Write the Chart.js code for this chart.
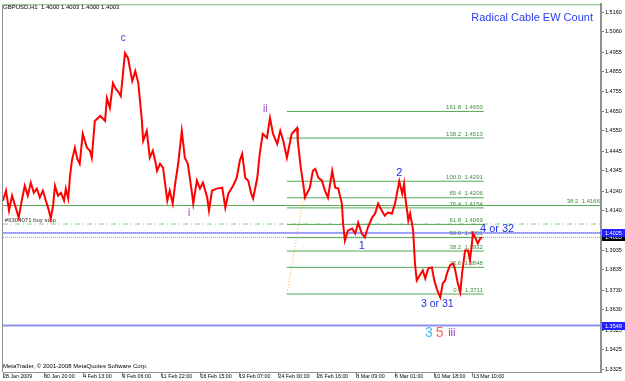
<!DOCTYPE html>
<html><head><meta charset="utf-8">
<script src="https://cdn.jsdelivr.net/npm/chart.js@4/dist/chart.umd.min.js"></script>
<style>html,body{margin:0;padding:0;background:#fff;overflow:hidden}#wrap{width:625px;height:381px;position:relative}</style>
</head><body><div id="wrap"><canvas id="c" width="625" height="381"></canvas></div>
<script>
// ---- data (hour-bar index from 28 Jan 2009 00:00, GBPUSD H1 price) ----
const barIndex = [0,5,10,15,20,26,31,36,41,46,51,56,61,66,71,76,79,83,86,91,96,101,104,108,111,114,119,123,127,132,139,144,147,152,161,169,172,177,182,187,190,195,199,202,207,214,219,224,230,232,238,243,248,252,255,260,265,272,276,281,285,290,296,301,306,313,315,321,326,331,338,341,346,354,363,368,373,381,387,392,396,401,406,411,414,421,425,430,437,442,447,454,459,464,470,478,487,488,493,497,500,503,508,513,517,522,528,533,538,545,550,555,561,563,566,571,578,583,588,594,599,604,611,616,621,627,632,637,644,649,654,656,661,664,666,669,671,674,679,682,685,690,695,699,704,710,714,719,724,728,732,735,740,745,748,753,757,760,765,770,773,776,778,781,786,790,793];
const closePrice = [1.4191,1.4243,1.4140,1.4217,1.4166,1.4104,1.4191,1.4268,1.4217,1.4284,1.4232,1.4253,1.4207,1.4243,1.4191,1.4140,1.4099,1.4166,1.4268,1.4217,1.4232,1.4191,1.4253,1.4202,1.4319,1.4396,1.4463,1.4407,1.4381,1.4535,1.4463,1.4448,1.4412,1.4601,1.4627,1.4601,1.4719,1.4668,1.4796,1.4765,1.4755,1.4729,1.4858,1.4950,1.4924,1.4806,1.4858,1.4796,1.4601,1.4499,1.4550,1.4412,1.4448,1.4396,1.4345,1.4381,1.4360,1.4191,1.4243,1.4176,1.4278,1.4381,1.4550,1.4412,1.4381,1.4227,1.4176,1.4294,1.4253,1.4284,1.4207,1.4140,1.4243,1.4253,1.4258,1.4155,1.4227,1.4268,1.4309,1.4396,1.4432,1.4309,1.4294,1.4227,1.4202,1.4309,1.4432,1.4535,1.4514,1.4617,1.4535,1.4483,1.4550,1.4499,1.4412,1.4535,1.4565,1.4499,1.4360,1.4278,1.4207,1.4227,1.4258,1.4345,1.4355,1.4309,1.4294,1.4243,1.4207,1.4345,1.4258,1.4253,1.4176,1.4073,1.3986,1.4037,1.4048,1.4022,1.4078,1.4022,1.4002,1.4053,1.4104,1.4125,1.4176,1.4140,1.4114,1.4130,1.4125,1.4176,1.4258,1.4291,1.4227,1.4278,1.4207,1.4140,1.4089,1.4125,1.4037,1.3868,1.3781,1.3807,1.3832,1.3791,1.3843,1.3848,1.3781,1.3730,1.3694,1.3766,1.3781,1.3817,1.3858,1.3868,1.3843,1.3766,1.3720,1.3817,1.3935,1.3935,1.3884,1.3961,1.4022,1.4007,1.3971,1.3996,1.4003];
const xTickBars = [0,68,133,198,262,327,391,456,520,585,649,714,778];
const xTickLabels = ['28 Jan 2009','30 Jan 20:00','4 Feb 13:00','9 Feb 06:00','11 Feb 22:00','16 Feb 15:00','19 Feb 07:00','24 Feb 00:00','26 Feb 16:00','3 Mar 09:00','6 Mar 01:00','10 Mar 18:00','13 Mar 10:00'];
const yTickValues = [1.5160,1.5060,1.4955,1.4855,1.4755,1.4650,1.4550,1.4445,1.4345,1.4240,1.4140,1.4035,1.3935,1.3835,1.3730,1.3630,1.3525,1.3425,1.3325];
const fibRatios = ['161.8','138.2','100.0','85.4','76.4','61.8','50.0','38.2','23.6','0.0'];
const fibPrices = [1.4650,1.4513,1.4291,1.4206,1.4154,1.4069,1.4001,1.3932,1.3848,1.3711];
const fibBars = [470, 796];
const fibDiagonal = [[470,1.3711],[502,1.4291]];
const level382Price = 1.4166;
const buyStopPrice = 1.4071;
const blueLinePrice = 1.4025;
const bidPrice = 1.4003;
const supportPrice = 1.3549;
const topLinePrice = 1.5199;
const waveLabels = [
  {t:'c', x:199, y:1.5027, c:'#3333cc', s:10},
  {t:'ii', x:434, y:1.4663, c:'#9933cc', s:10},
  {t:'i', x:308, y:1.4125, c:'#9933cc', s:10},
  {t:'1', x:594, y:1.3956, c:'#2233dd', s:11},
  {t:'2', x:656, y:1.4335, c:'#2233dd', s:11},
  {t:'3 or 31', x:719, y:1.3658, c:'#2233dd', s:10.5},
  {t:'4 or 32', x:818, y:1.4048, c:'#2233dd', s:11},
  {t:'3', x:705, y:1.3510, c:'#44bbee', s:14},
  {t:'5', x:723, y:1.3510, c:'#ff6655', s:14},
  {t:'iii', x:743, y:1.3510, c:'#9933cc', s:11},
  {t:'Radical Cable EW Count', x:876, y:1.5129, c:'#2a3cf0', s:11}
];
const X_MAX = 990, Y_MIN = 1.3310, Y_MAX = 1.5201;
const FONT = "'Liberation Sans', Arial, sans-serif";

const seg = (x0,y0,x1,y1) => [{x:x0,y:y0},{x:x1,y:y1}];
const lineDs = (data, color, width, dash) => ({data, borderColor:color, borderWidth:width, borderDash:dash||[], pointRadius:0, tension:0, fill:false});

const datasets = [
  lineDs(barIndex.map((b,i)=>({x:b,y:closePrice[i]})), '#ff0000', 2),
];
fibPrices.forEach(p => datasets.push(lineDs(seg(fibBars[0],p,fibBars[1],p), '#55a855', 1)));
datasets.push(lineDs(seg(fibDiagonal[0][0],fibDiagonal[0][1],fibDiagonal[1][0],fibDiagonal[1][1]), '#ffaa44', 1, [1,2]));
datasets.push(lineDs(seg(0,level382Price,X_MAX,level382Price), '#55a855', 1));
datasets.push(lineDs(seg(0,buyStopPrice,X_MAX,buyStopPrice), '#77dd77', 1, [5,3,1,3]));
datasets.push(lineDs(seg(0,blueLinePrice,X_MAX,blueLinePrice), '#4444ff', 1));
datasets.push(lineDs(seg(0,bidPrice,X_MAX,bidPrice), '#a0a0a0', 1, [1,1]));
datasets.push(lineDs(seg(0,supportPrice,X_MAX,supportPrice), '#8f8ff0', 2));
datasets.push(lineDs(seg(0,topLinePrice,X_MAX,topLinePrice), '#55a855', 1));

function txt(ctx, s, x, y, font, color, align, base){
  ctx.save(); ctx.font = font; ctx.fillStyle = color; ctx.textAlign = align||'left'; ctx.textBaseline = base||'middle';
  ctx.fillText(s, x, y); ctx.restore();
}
const annot = {
  id:'annot',
  beforeDatasetsDraw(chart){
    const {ctx, scales:{x,y}} = chart;
    const xr = x.getPixelForValue(fibBars[1]);
    fibPrices.forEach((p,i)=>{
      txt(ctx, fibRatios[i]+'  '+p.toFixed(4), xr-1, y.getPixelForValue(p)-1, '6px '+FONT, '#3f8f3f', 'right', 'bottom');
    });
    txt(ctx, '38.2  '+level382Price.toFixed(4), x.getPixelForValue(X_MAX)-1, y.getPixelForValue(level382Price)-1, '6px '+FONT, '#3f8f3f', 'right', 'bottom');
    txt(ctx, '#6304071 buy stop', x.getPixelForValue(3), y.getPixelForValue(buyStopPrice)-1, '6px '+FONT, '#333333', 'left', 'bottom');
  },
  afterDatasetsDraw(chart){
    const {ctx, scales:{x,y}} = chart;
    waveLabels.forEach(l => txt(ctx, l.t, x.getPixelForValue(l.x), y.getPixelForValue(l.y), l.s+'px '+FONT, l.c, 'center', 'middle'));
  },
  afterDraw(chart){
    const {ctx, chartArea:a, scales:{y}} = chart;
    ctx.save();
    ctx.strokeStyle = '#909090'; ctx.lineWidth = 1;
    ctx.beginPath(); ctx.moveTo(a.left-0.5, a.top); ctx.lineTo(a.left-0.5, a.bottom); ctx.stroke();
    ctx.restore();
    const box = (p, bg) => {
      const py = Math.round(y.getPixelForValue(p));
      ctx.fillStyle = bg; ctx.fillRect(a.right+1, py-4, 23, 8);
      txt(ctx, p.toFixed(4), a.right+4, py, '5.5px '+FONT, '#ffffff', 'left', 'middle');
    };
    box(bidPrice, '#000000');
    box(blueLinePrice, '#2222ff');
    box(supportPrice, '#2222ff');
    txt(ctx, 'GBPUSD,H1  1.4000 1.4003 1.4000 1.4003', 3, 7, '6px '+FONT, '#000000', 'left', 'middle');
    txt(ctx, 'MetaTrader, \u00a9 2001-2008 MetaQuotes Software Corp.', 3, 366, '6px '+FONT, '#000000', 'left', 'middle');
  }
};

new Chart(document.getElementById('c'), {
  type:'line',
  data:{datasets},
  options:{
    responsive:false, animation:false, devicePixelRatio:1,
    layout:{padding:{left:3, top:3, right:0, bottom:0}},
    plugins:{legend:{display:false}, tooltip:{enabled:false}},
    scales:{
      x:{type:'linear', min:0, max:X_MAX, position:'bottom',
        afterBuildTicks:s=>{s.ticks = xTickBars.map(v=>({value:v}));},
        afterFit:s=>{s.height = 9;},
        ticks:{autoSkip:false, maxRotation:0, align:'start', padding:-4, color:'#000', font:{size:5.3, family:FONT},
          callback:(v)=>{const i = xTickBars.indexOf(v); return i>=0 ? xTickLabels[i] : '';}},
        grid:{drawOnChartArea:false, tickLength:5, color:'#808080'},
        border:{display:true, color:'#909090', width:1}
      },
      y:{type:'linear', min:Y_MIN, max:Y_MAX, position:'right',
        afterBuildTicks:s=>{s.ticks = yTickValues.map(v=>({value:v}));},
        afterFit:s=>{s.width = 24;},
        ticks:{padding:1, color:'#000', font:{size:5.5, family:FONT}, callback:v=>Number(v).toFixed(4)},
        grid:{drawOnChartArea:false, tickLength:3, color:'#808080'},
        border:{display:true, color:'#909090', width:2}
      }
    }
  },
  plugins:[annot]
});
</script></body></html>
